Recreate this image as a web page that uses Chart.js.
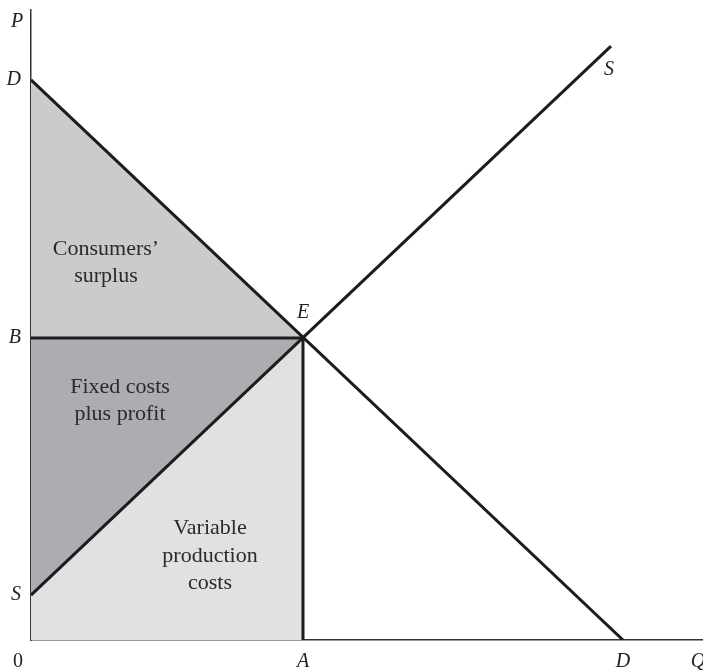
<!DOCTYPE html>
<html>
<head>
<meta charset="utf-8">
<script src="https://cdn.jsdelivr.net/npm/chart.js@4.4.0/dist/chart.umd.min.js"></script>
<style>
  html, body { margin: 0; padding: 0; background: #fff; }
  #wrap { width: 703px; height: 671px; }
</style>
</head>
<body>
<div id="wrap"><canvas id="chart"></canvas></div>
<script>
// axis ranges (quantity Q, price P)
const qMax = 672;
const pMax = 632;

// curve end points
const demandQ = [0, 592];
const demandP = [562, 0];
const supplyQ = [0, 580];
const supplyP = [45, 596];

// equilibrium E
const eqQ = 272;
const eqP = 303;

// tick labels
const yTickValues = [45, 303, 562];
const yTickLabels = ['S', 'B', 'D'];
const xTickValues = [272, 592];
const xTickLabels = ['A', 'D'];

// text inside the areas
const areaText = [
  { lines: ['Consumers\u2019', 'surplus'], q: 75, p: [392, 365] },
  { lines: ['Fixed costs', 'plus profit'], q: 89, p: [254, 227] },
  { lines: ['Variable', 'production', 'costs'], q: 179, p: [112, 84, 57] },
];

const pts = (xs, ys) => xs.map((x, i) => ({ x: x, y: ys[i] }));

const ink = '#1c1c1c';
const serif = '"Liberation Serif", "DejaVu Serif", serif';

const labelPlugin = {
  id: 'labels',
  afterDraw(chart) {
    const ctx = chart.ctx;
    const xs = chart.scales.x, ys = chart.scales.y;
    ctx.save();
    ctx.fillStyle = '#222';
    ctx.textAlign = 'center';
    ctx.textBaseline = 'middle';
    ctx.font = 'italic 20px ' + serif;
    ctx.fillText('P', xs.left - 14, ys.top + 12);
    ctx.fillText('Q', xs.right - 5, ys.bottom + 22);
    ctx.fillText('E', xs.getPixelForValue(eqQ), ys.getPixelForValue(eqP) - 25);
    ctx.fillText('S', xs.getPixelForValue(supplyQ[1]) - 2, ys.getPixelForValue(supplyP[1]) + 24);
    ctx.font = '20px ' + serif;
    ctx.fillText('0', xs.left - 13, ys.bottom + 22);

    ctx.font = '22px ' + serif;
    ctx.fillStyle = '#2a2a2a';
    areaText.forEach(t => {
      t.lines.forEach((line, i) => {
        ctx.fillText(line, xs.getPixelForValue(t.q), ys.getPixelForValue(t.p[i]));
      });
    });
    ctx.restore();
  }
};

new Chart(document.getElementById('chart'), {
  type: 'line',
  data: {
    datasets: [
      {
        // variable production costs (under supply, left of A)
        data: pts([0, eqQ], [supplyP[0], eqP]),
        fill: 'origin',
        backgroundColor: '#e0e1e3',
        borderWidth: 0,
        pointRadius: 0,
      },
      {
        // fixed costs plus profit (between B and supply)
        data: pts([0, eqQ], [eqP, eqP]),
        fill: 0,
        backgroundColor: '#acadb0',
        borderWidth: 0,
        pointRadius: 0,
      },
      {
        // consumers' surplus (between demand and B)
        data: pts([0, eqQ], [demandP[0], eqP]),
        fill: 1,
        backgroundColor: '#cbcbcd',
        borderWidth: 0,
        pointRadius: 0,
      },
      {
        data: pts(demandQ, demandP),
        borderColor: ink,
        borderWidth: 3,
        pointRadius: 0,
        fill: false,
      },
      {
        data: pts(supplyQ, supplyP),
        borderColor: ink,
        borderWidth: 3,
        pointRadius: 0,
        fill: false,
      },
      {
        data: pts([0, eqQ], [eqP, eqP]),
        borderColor: ink,
        borderWidth: 3,
        pointRadius: 0,
        fill: false,
      },
      {
        data: pts([eqQ, eqQ], [0, eqP]),
        borderColor: ink,
        borderWidth: 3,
        pointRadius: 0,
        fill: false,
      },
    ]
  },
  options: {
    responsive: true,
    maintainAspectRatio: false,
    animation: false,
    layout: { padding: { left: 0, top: 8, right: 0, bottom: 0 } },
    plugins: {
      legend: { display: false },
      tooltip: { enabled: false },
      filler: { drawTime: 'beforeDatasetsDraw' },
    },
    scales: {
      x: {
        type: 'linear',
        min: 0,
        max: qMax,
        z: 1,
        grid: { display: false, drawTicks: false },
        border: { display: true, color: '#333', width: 1.5 },
        afterBuildTicks: axis => { axis.ticks = xTickValues.map(v => ({ value: v })); },
        afterFit: axis => { axis.height = 31; },
        ticks: {
          autoSkip: false,
          maxRotation: 0,
          padding: 10,
          color: '#222',
          font: { family: serif, style: 'italic', size: 20 },
          callback: (v) => xTickLabels[xTickValues.indexOf(v)],
        },
      },
      y: {
        type: 'linear',
        min: 0,
        max: pMax,
        z: 1,
        grid: { display: false, drawTicks: false },
        border: { display: true, color: '#333', width: 1.5 },
        afterBuildTicks: axis => { axis.ticks = yTickValues.map(v => ({ value: v })); },
        afterFit: axis => { axis.width = 31; },
        ticks: {
          autoSkip: false,
          padding: 10,
          color: '#222',
          font: { family: serif, style: 'italic', size: 20, lineHeight: 0.02 },
          callback: (v) => yTickLabels[yTickValues.indexOf(v)],
        },
      },
    },
  },
  plugins: [labelPlugin],
});
</script>
</body>
</html>
